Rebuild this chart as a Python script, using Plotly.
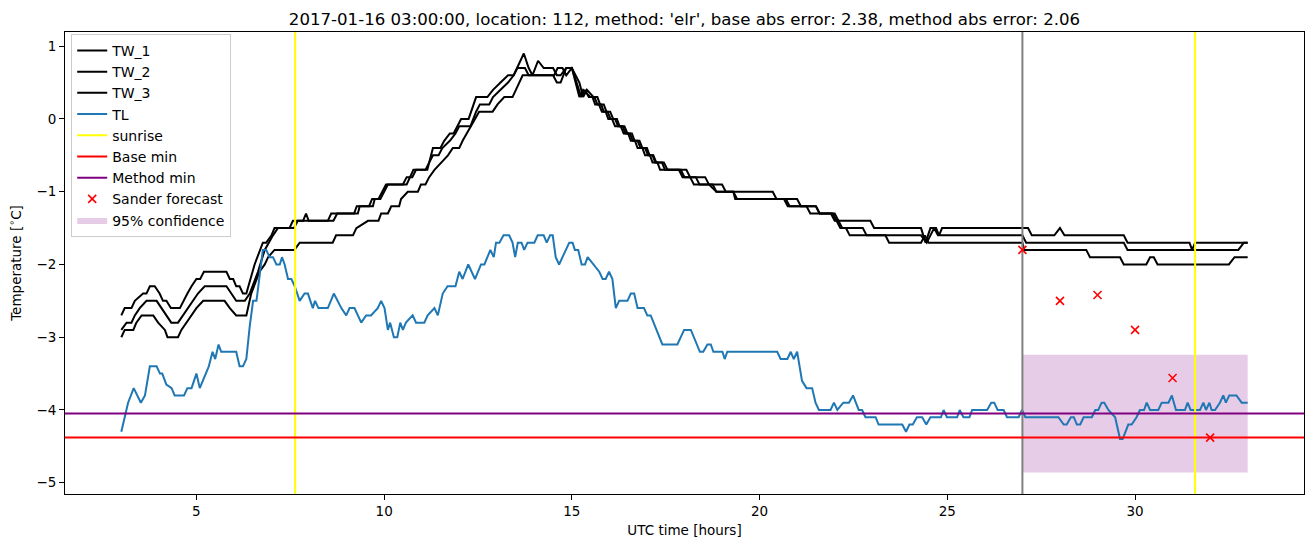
import plotly.graph_objects as go

# ---------------- data ----------------
tw1_t = [3.0, 3.09, 3.27, 3.36, 3.58, 3.67, 3.76, 3.89, 4.02, 4.11, 4.2, 4.32, 4.56, 4.65, 4.76, 4.87, 5.0, 5.1, 5.2, 5.8,
         5.89, 5.98, 6.06, 6.15, 6.24, 6.33, 6.55, 6.77, 6.86, 7.0, 7.08, 7.48, 7.57, 7.84, 7.92, 7.99, 8.5, 8.59, 9.2, 9.27,
         9.6, 9.68, 9.85, 9.95, 10.05, 10.6, 10.68, 10.78, 11.15, 11.2, 11.25, 11.3, 11.5, 11.6, 11.75, 11.85, 11.95, 12.05,
         12.25, 12.45, 12.75, 12.9, 13.1, 13.3, 13.45, 13.72, 13.85, 13.95, 14.1, 14.25, 14.5, 14.6, 14.7, 14.85, 15.0,
         15.2, 15.25, 15.35, 15.45, 15.55, 15.62, 15.72, 15.8, 15.9, 15.97, 16.07, 16.15, 16.3, 16.38, 16.5, 16.57, 16.68,
         16.75, 16.88, 16.95, 17.08, 17.15, 17.28, 17.35, 17.85, 17.95, 18.3,
         18.4, 19.0, 19.1, 20.35, 20.45, 21.0, 21.1, 21.5, 21.6, 21.9, 22.0, 22.95, 23.05, 24.3, 24.42, 24.55, 24.7, 24.78,
         24.86, 27.15, 27.25, 27.85, 28.0, 28.12, 29.7, 29.8, 31.45, 31.52, 31.6, 33.0]
tw1_v = [-2.7, -2.6, -2.6, -2.5, -2.4, -2.4, -2.3, -2.3, -2.4, -2.5, -2.5, -2.6, -2.6, -2.5, -2.4, -2.3, -2.2, -2.2, -2.1, -2.1,
         -2.2, -2.2, -2.3, -2.3, -2.4, -2.4, -2.0, -1.7, -1.7, -1.6, -1.5, -1.5, -1.4, -1.4, -1.3, -1.4, -1.4, -1.3, -1.3, -1.2,
         -1.2, -1.1, -1.1, -1.0, -0.9, -0.9, -0.8, -0.7, -0.7, -0.6, -0.5, -0.4, -0.4, -0.3, -0.2, -0.2, -0.1, 0.0,
         0.0, 0.3, 0.3, 0.4, 0.5, 0.6, 0.6, 0.9, 0.7, 0.6, 0.8, 0.7, 0.7, 0.6, 0.6, 0.7, 0.7,
         0.4, 0.3, 0.4, 0.3, 0.3, 0.2, 0.2, 0.1, 0.1, 0.0, 0.0, -0.1, -0.1, -0.2, -0.2, -0.3, -0.3,
         -0.4, -0.4, -0.5, -0.5, -0.6, -0.6, -0.7, -0.7, -0.8, -0.8,
         -0.9, -0.9, -1.0, -1.0, -1.1, -1.1, -1.2, -1.2, -1.3, -1.3, -1.4, -1.4, -1.5, -1.5, -1.7, -1.5, -1.5, -1.6,
         -1.5, -1.5, -1.6, -1.6, -1.5, -1.6, -1.6, -1.7, -1.7, -1.8, -1.7, -1.7]

tw2_t = [3.0, 3.14, 3.27, 3.36, 3.49, 3.67, 3.94, 4.07, 4.2, 4.33, 4.51, 4.64, 4.78, 4.91, 5.04, 5.22, 5.8, 5.93, 6.06, 6.29,
         6.42, 6.64, 6.82, 7.04, 7.17, 7.6, 7.7, 8.65, 8.75, 9.3, 9.35, 9.7, 9.75, 9.9, 10.0, 10.1, 10.5, 10.6, 10.75, 10.85,
         11.1, 11.3, 11.45, 11.55, 11.75, 11.9, 12.0, 12.3, 12.45, 12.55, 12.8, 12.9, 13.1, 13.3, 13.45, 13.55, 13.75, 13.85,
         14.5, 14.6, 14.7, 14.85, 15.0, 15.2, 15.3, 15.5, 15.6, 15.68, 15.78, 15.85, 15.95, 16.03, 16.15, 16.23, 16.35,
         16.43, 16.55, 16.62, 16.75, 16.83, 16.95, 17.03, 17.17, 17.25, 17.4, 17.48,
         18.05, 18.15, 18.55, 18.65, 18.85, 19.3, 19.4, 20.65, 20.75, 21.25, 21.35, 21.95, 22.05, 22.15, 22.75, 22.85,
         24.3, 24.45, 24.55, 24.65, 24.75, 27.0, 27.1, 29.7, 29.8, 32.75, 32.9, 33.0]
tw2_v = [-2.9, -2.8, -2.8, -2.7, -2.6, -2.5, -2.5, -2.6, -2.7, -2.8, -2.8, -2.7, -2.6, -2.5, -2.4, -2.3, -2.3, -2.4, -2.5, -2.5,
         -2.4, -2.1, -1.8, -1.6, -1.5, -1.5, -1.4, -1.4, -1.3, -1.3, -1.2, -1.2, -1.1, -1.1, -1.0, -0.9, -0.9, -0.8, -0.8, -0.7,
         -0.7, -0.5, -0.5, -0.4, -0.3, -0.2, -0.1, -0.1, 0.1, 0.2, 0.2, 0.3, 0.4, 0.5, 0.6, 0.7, 0.7, 0.6,
         0.6, 0.5, 0.5, 0.7, 0.7, 0.3, 0.4, 0.3, 0.3, 0.2, 0.2, 0.1, 0.1, 0.0, 0.0, -0.1, -0.1,
         -0.2, -0.2, -0.3, -0.3, -0.4, -0.4, -0.5, -0.5, -0.6, -0.6, -0.7,
         -0.7, -0.8, -0.8, -0.9, -1.0, -1.0, -1.1, -1.1, -1.2, -1.2, -1.3, -1.3, -1.4, -1.5, -1.5, -1.6,
         -1.6, -1.7, -1.6, -1.5, -1.6, -1.6, -1.7, -1.7, -1.8, -1.8, -1.7, -1.7]

tw3_t = [3.0, 3.09, 3.32, 3.4, 3.54, 3.85, 3.98, 4.16, 4.23, 4.51, 4.6, 4.73, 4.87, 5.0, 5.18, 5.75, 5.89, 6.06, 6.33, 6.46,
         6.68, 6.82, 6.91, 7.08, 7.61, 7.75, 8.63, 8.72, 9.17, 9.26, 9.57, 9.85, 9.92, 10.1, 10.19, 10.4, 10.45, 10.63, 10.9,
         10.98, 11.1, 11.2, 11.34, 11.52, 11.7, 11.83, 12.0, 12.09, 12.2, 12.3, 12.53, 12.89, 13.02, 13.2, 13.42, 13.69,
         14.53, 14.62, 14.75, 14.85, 15.0, 15.2, 15.3, 15.4, 15.58, 15.68, 15.75, 15.85, 15.92, 16.02, 16.1, 16.2, 16.27,
         16.4, 16.48, 16.6, 16.67, 16.8, 16.88, 17.0, 17.07, 17.15,
         17.22, 17.45, 17.55, 17.9, 18.0, 18.15, 18.25, 18.75, 18.85, 19.3, 19.35, 20.7, 20.8, 21.5, 21.6, 22.0, 22.1, 22.2,
         22.3, 22.4, 23.35, 23.45, 24.3, 24.4, 24.5, 27.0, 27.05, 28.7, 28.8, 29.6, 29.7, 30.3, 30.4, 30.5, 30.6, 32.5,
         32.65, 33.0]
tw3_v = [-3.0, -2.9, -2.9, -2.8, -2.7, -2.7, -2.8, -2.9, -3.0, -3.0, -2.9, -2.8, -2.7, -2.6, -2.5, -2.5, -2.6, -2.7, -2.7, -2.4,
         -2.1, -2.0, -1.9, -1.8, -1.8, -1.7, -1.7, -1.6, -1.6, -1.5, -1.4, -1.4, -1.3, -1.3, -1.2, -1.2, -1.1, -1.0, -1.0,
         -0.9, -0.9, -0.8, -0.7, -0.6, -0.5, -0.4, -0.4, -0.3, -0.2, -0.1, 0.1, 0.1, 0.2, 0.3, 0.3, 0.6,
         0.6, 0.7, 0.7, 0.6, 0.7, 0.5, 0.3, 0.4, 0.3, 0.3, 0.2, 0.2, 0.1, 0.1, 0.0, 0.0, -0.1,
         -0.1, -0.2, -0.2, -0.3, -0.3, -0.4, -0.4, -0.5, -0.5,
         -0.6, -0.6, -0.7, -0.7, -0.8, -0.8, -0.9, -0.9, -1.0, -1.0, -1.1, -1.1, -1.2, -1.2, -1.3, -1.3, -1.4, -1.5,
         -1.5, -1.6, -1.6, -1.7, -1.7, -1.6, -1.7, -1.7, -1.8, -1.8, -1.9, -1.9, -2.0, -2.0, -1.9, -1.9, -2.0, -2.0,
         -1.9, -1.9]

tl_t = [3.0, 3.14, 3.18, 3.33, 3.52, 3.63, 3.76, 3.94, 4.03, 4.09, 4.2, 4.34, 4.42, 4.67, 4.76, 4.87, 5.0, 5.09, 5.33, 5.43,
        5.5, 5.59, 5.66, 6.06, 6.15, 6.24, 6.33, 6.42, 6.51, 6.6, 6.77, 6.86, 6.95, 7.04, 7.13, 7.22, 7.28, 7.35, 7.44, 7.53,
        7.62, 7.75, 7.88, 7.97, 8.1, 8.16, 8.25, 8.5, 8.66, 8.86, 8.99, 9.08, 9.21, 9.39, 9.52, 9.65, 9.83, 9.92, 10.01,
        10.1, 10.16, 10.26, 10.35, 10.43, 10.5, 10.58, 10.76, 10.85, 11.07, 11.16, 11.34, 11.43, 11.56, 11.69, 11.9, 12.0,
        12.09, 12.24, 12.42, 12.58, 12.67, 12.83, 12.92, 12.98, 13.07, 13.18, 13.33, 13.42, 13.49, 13.56, 13.66, 13.73,
        13.82, 14.0, 14.09, 14.25, 14.33, 14.42, 14.49, 14.57, 14.66, 14.93, 15.02, 15.08, 15.17, 15.26, 15.35, 15.42,
        15.73, 15.82, 15.9, 15.99, 16.08, 16.17, 16.26, 16.48, 16.57, 16.66, 16.75, 16.92, 17.01, 17.1, 17.41, 17.81,
        17.99, 18.17, 18.41, 18.5, 18.61, 18.7, 18.77, 19.01, 19.07, 19.14, 20.47, 20.56, 20.74, 20.83, 20.91, 21.0,
        21.13, 21.25, 21.4, 21.49, 21.58, 21.89, 21.98, 22.07, 22.23, 22.38, 22.49, 22.64, 22.73, 22.82, 23.09, 23.17,
        23.8, 23.9, 23.99, 24.08, 24.19, 24.33, 24.44, 24.55, 24.83, 24.9, 24.99, 25.26, 25.33, 25.43, 25.59, 25.66,
        26.06, 26.17, 26.25, 26.34, 26.5, 26.59, 26.9, 26.99, 27.08, 27.96, 28.1, 28.18, 28.29, 28.37, 28.45, 28.54,
        28.63, 28.85, 28.94, 29.02, 29.11, 29.18, 29.29, 29.47, 29.6, 29.67, 29.82, 29.91, 30.04, 30.13, 30.24, 30.31,
        30.4, 30.62, 30.71, 30.89, 30.98, 31.09, 31.33, 31.4, 31.48, 31.73, 31.82, 31.89, 31.98, 32.04, 32.13, 32.26,
        32.35, 32.42, 32.51, 32.7, 32.84, 33.0]
tl_v = [-4.3, -4.0, -3.9, -3.7, -3.9, -3.8, -3.4, -3.4, -3.5, -3.5, -3.65, -3.7, -3.8, -3.8, -3.7, -3.7, -3.5, -3.7, -3.4, -3.2,
        -3.3, -3.1, -3.2, -3.2, -3.4, -3.4, -3.3, -2.85, -2.5, -2.5, -1.8, -1.8, -1.9, -1.9, -2.0, -2.0, -1.9, -2.0, -2.2, -2.2,
        -2.3, -2.5, -2.4, -2.4, -2.6, -2.5, -2.6, -2.6, -2.4, -2.6, -2.7, -2.6, -2.6, -2.8, -2.7, -2.7, -2.6, -2.5, -2.6,
        -2.9, -2.8, -3.0, -3.0, -2.8, -2.9, -2.8, -2.7, -2.8, -2.8, -2.7, -2.6, -2.7, -2.4, -2.3, -2.3, -2.1,
        -2.2, -2.0, -2.2, -2.0, -2.0, -1.8, -1.9, -1.7, -1.7, -1.6, -1.6, -1.7, -1.9, -1.7, -1.7, -1.8,
        -1.7, -1.7, -1.6, -1.6, -1.7, -1.6, -1.6, -1.9, -2.0, -1.7, -1.7, -1.8, -1.8, -2.0, -2.0, -1.9,
        -2.1, -2.2, -2.2, -2.1, -2.2, -2.6, -2.5, -2.5, -2.4, -2.4, -2.6, -2.6, -2.7, -2.7, -3.1, -3.1,
        -2.9, -2.9, -3.2, -3.2, -3.1, -3.1, -3.2, -3.2, -3.3, -3.2, -3.2, -3.3, -3.3, -3.2, -3.3, -3.2,
        -3.6, -3.7, -3.7, -3.9, -4.0, -4.0, -3.9, -4.0, -3.9, -3.9, -3.8, -4.0, -4.0, -4.1, -4.1, -4.2,
        -4.2, -4.3, -4.2, -4.2, -4.1, -4.1, -4.2, -4.1, -4.1, -4.0, -4.1, -4.1, -4.0, -4.1, -4.1, -4.0,
        -4.0, -3.9, -3.9, -4.0, -4.0, -4.1, -4.1, -4.0, -4.1, -4.1, -4.2, -4.2, -4.1, -4.1, -4.2, -4.2,
        -4.1, -4.1, -4.0, -4.0, -3.9, -3.9, -4.0, -4.1, -4.4, -4.4, -4.2, -4.2, -4.1, -4.0, -4.0, -3.9,
        -4.0, -4.0, -3.9, -3.9, -3.8, -4.0, -4.0, -3.9, -4.0, -4.0, -3.9, -4.0, -3.9, -4.0, -4.0, -3.9,
        -3.8, -3.9, -3.8, -3.8, -3.9, -3.9]

sunrise_hours = [7.63, 31.6]
forecast_start = 27.0
base_min = -4.38
method_min = -4.05
sander_t = [27, 28, 29, 30, 31, 32]
sander_v = [-1.8, -2.5, -2.42, -2.9, -3.56, -4.38]
conf_t = [27.0, 33.0]
conf_low = -4.86
conf_high = -3.24

title_text = "2017-01-16 03:00:00, location: 112, method: 'elr', base abs error: 2.38, method abs error: 2.06"

XR = [1.5, 34.5]
YR = [-5.155, 1.195]

FONT = "DejaVu Sans"
fig = go.Figure()

# 95% confidence band (drawn first so lines are on top)
fig.add_trace(go.Scatter(
    x=[conf_t[0], conf_t[1], conf_t[1], conf_t[0], conf_t[0]],
    y=[conf_low, conf_low, conf_high, conf_high, conf_low],
    fill="toself", fillcolor="rgba(128,0,128,0.2)", mode="lines",
    line=dict(width=0, color="rgba(128,0,128,0.2)"), name="95% confidence", legendrank=9))

for i, (t, v) in enumerate([(tw1_t, tw1_v), (tw2_t, tw2_v), (tw3_t, tw3_v)]):
    fig.add_trace(go.Scatter(x=t, y=v, mode="lines", line=dict(color="black", width=2),
                             name=f"TW_{i+1}", legendrank=i + 1))

fig.add_trace(go.Scatter(x=tl_t, y=tl_v, mode="lines", line=dict(color="#1f77b4", width=2),
                         name="TL", legendrank=4))

# gray forecast-start line (no legend)
fig.add_trace(go.Scatter(x=[forecast_start, forecast_start], y=YR, mode="lines",
                         line=dict(color="gray", width=2), showlegend=False))

# sunrise lines
for j, s in enumerate(sunrise_hours):
    fig.add_trace(go.Scatter(x=[s, s], y=YR, mode="lines", line=dict(color="#ffff00", width=2),
                             name="sunrise", showlegend=(j == 0), legendrank=5))

fig.add_trace(go.Scatter(x=XR, y=[base_min, base_min], mode="lines", line=dict(color="red", width=2),
                         name="Base min", legendrank=6))
fig.add_trace(go.Scatter(x=XR, y=[method_min, method_min], mode="lines", line=dict(color="purple", width=2),
                         name="Method min", legendrank=7))

fig.add_trace(go.Scatter(x=sander_t, y=sander_v, mode="markers",
                         marker=dict(symbol="x-thin", size=8, line=dict(color="red", width=1.6), color="red"),
                         name="Sander forecast", legendrank=8))

axis_common = dict(showline=True, linecolor="black", linewidth=1, mirror=True, ticks="outside",
                   ticklen=5, tickcolor="black", showgrid=False, zeroline=False,
                   tickfont=dict(family=FONT, size=13.5, color="black"), automargin=False)

fig.update_layout(
    width=1313, height=547,
    margin=dict(l=65, r=9, t=32, b=53),
    paper_bgcolor="white", plot_bgcolor="white",
    font=dict(family=FONT, size=13.5, color="black"),
    title=dict(text=title_text, x=0.5, xref="paper", xanchor="center",
               y=1, yref="paper", yanchor="bottom", pad=dict(b=7),
               font=dict(family=FONT, size=16.6, color="black")),
    xaxis=dict(range=XR, tickvals=[5, 10, 15, 20, 25, 30],
               title=dict(text="UTC time [hours]", standoff=7, font=dict(family=FONT, size=13.5)),
               **axis_common),
    yaxis=dict(range=YR, tickvals=[-5, -4, -3, -2, -1, 0, 1],
               title=dict(text="Temperature [<sup>∘</sup>C]", standoff=11, font=dict(family=FONT, size=13.5)),
               **axis_common),
    legend=dict(x=0.005, y=0.996, xanchor="left", yanchor="top",
                bgcolor="rgba(255,255,255,0.8)", bordercolor="#cccccc", borderwidth=1,
                font=dict(family=FONT, size=14, color="black"), itemwidth=30,
                tracegroupgap=0),
    showlegend=True,
)

fig.write_html("out.html")
